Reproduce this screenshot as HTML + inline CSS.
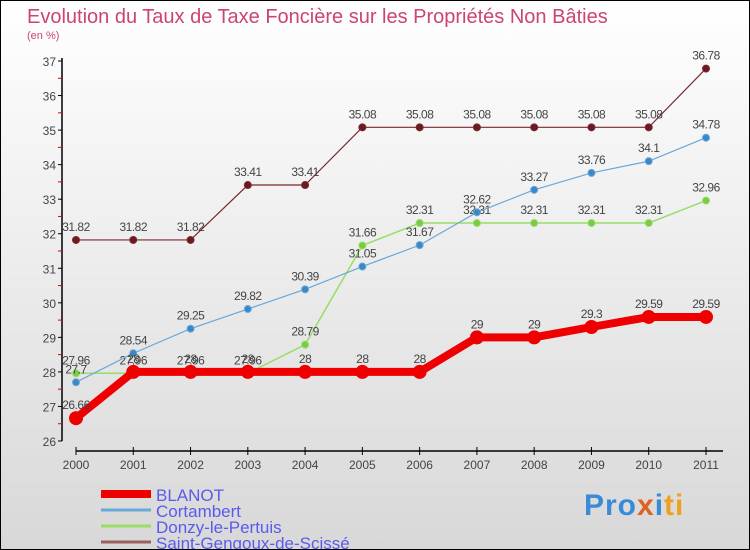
<!DOCTYPE html>
<html><head><meta charset="utf-8"><style>
body{margin:0}
#c{width:750px;height:550px;position:relative;box-sizing:border-box;border:1px solid #000;background:linear-gradient(#fff,#d8d8d8);font-family:"DejaVu Sans","Liberation Sans",sans-serif;overflow:hidden}
svg{position:absolute;left:0;top:0}
</style></head><body>
<div id="c">
<svg id="s" width="750" height="550">
<text x="26" y="22" font-size="20" fill="#cc4472" font-family="Liberation Sans, sans-serif">Evolution du Taux de Taxe Foncière sur les Propriétés Non Bâties</text>
<text x="26" y="38" font-size="11" fill="#cc4472" font-family="Liberation Sans, sans-serif">(en %)</text>
</svg>
<div style="position:absolute;left:583px;top:488px;font:bold 30px 'Liberation Sans',sans-serif;color:#3a8ad8;letter-spacing:1px">Pro<span style="color:#e06020">x</span><span style="color:#3a8ad8">i</span><span style="color:#f0a020">ti</span></div>
</div>
<script>
const years=[2000,2001,2002,2003,2004,2005,2006,2007,2008,2009,2010,2011];
const blanot=[26.66,28,28,28,28,28,28,29,29,29.3,29.59,29.59];
const cortambert=[27.7,28.54,29.25,29.82,30.39,31.05,31.67,32.62,33.27,33.76,34.1,34.78];
const donzy=[27.96,27.96,27.96,27.96,28.79,31.66,32.31,32.31,32.31,32.31,32.31,32.96];
const gengoux=[31.82,31.82,31.82,33.41,33.41,35.08,35.08,35.08,35.08,35.08,35.08,36.78];
const yTicks=[26,27,28,29,30,31,32,33,34,35,36,37];
const seriesNames=["BLANOT","Cortambert","Donzy-le-Pertuis","Saint-Gengoux-de-Scissé"];
const s=document.getElementById('s');const NS="http://www.w3.org/2000/svg";
const X=i=>75+i*(705-75)/(years.length-1);
const Y=v=>440-(v-26)*380/11;
function el(t,a,p){const e=document.createElementNS(NS,t);for(const k in a)e.setAttribute(k,a[k]);(p||s).appendChild(e);return e;}
let ax=el('line',{x1:61,y1:57,x2:61,y2:440,stroke:'#000','stroke-width':1.5});


let bx=el('line',{x1:75,y1:450,x2:722,y2:450,stroke:'#000','stroke-width':1.5});


yTicks.forEach(v=>{
 el('line',{x1:57,x2:61,y1:Y(v),y2:Y(v),stroke:'#000'});
 if(v<37)el('line',{x1:57,x2:61,y1:Y(v+0.5),y2:Y(v+0.5),stroke:'#d00'});
 const t=el('text',{x:55,y:Y(v)+5,'text-anchor':'end','font-size':12,fill:'#444','font-family':'Liberation Sans, sans-serif'});t.textContent=v;
 
 
});
years.forEach((y,i)=>{
 el('line',{x1:X(i),x2:X(i),y1:446,y2:454,stroke:'#000'});
 const t=el('text',{x:X(i),y:468,'text-anchor':'middle','font-size':12,fill:'#444','font-family':'Liberation Sans, sans-serif'});t.textContent=y;
 
 
});
function series(data,color,w,r,name,dot){
 const g=el('g',{});
 
 
 el('polyline',{points:data.map((v,i)=>X(i)+','+Y(v)).join(' '),fill:'none',stroke:color,'stroke-width':w},g);
 data.forEach((v,i)=>{
  const c=el('circle',{cx:X(i),cy:Y(v),r:r,fill:dot,stroke:color,'stroke-width':1},g);
  
  
  const t=el('text',{x:X(i),y:Y(v)-9,'text-anchor':'middle','font-size':12,fill:'#444','font-family':'Liberation Sans, sans-serif','letter-spacing':'-0.5'},g);t.textContent=v;
 });
}
series(gengoux,'#7a2a30',1.2,3.5,'saint-gengoux','#6a1a20');
series(donzy,'#99dd66',1.5,3.5,'donzy','#77cc44');
series(cortambert,'#6aa8d8',1.2,3.5,'cortambert','#3a88c8');
series(blanot,'#ee0000',8,6.5,'blanot','#ee0000');
const cols=['#ee0000','#6aa8d8','#99dd66','#9a6060'],ws=[8,3,3,3];
seriesNames.forEach((n,i)=>{
 const y=493+i*16;
 const l=el('line',{x1:100,x2:150,y1:y,y2:y,stroke:cols[i],'stroke-width':ws[i]});
 
 
 const t=el('text',{x:155,y:y+7,'font-size':17,fill:'#5a5aee','font-family':'Liberation Sans, sans-serif'});t.textContent=n;
 
 
});
</script>
</body></html>
